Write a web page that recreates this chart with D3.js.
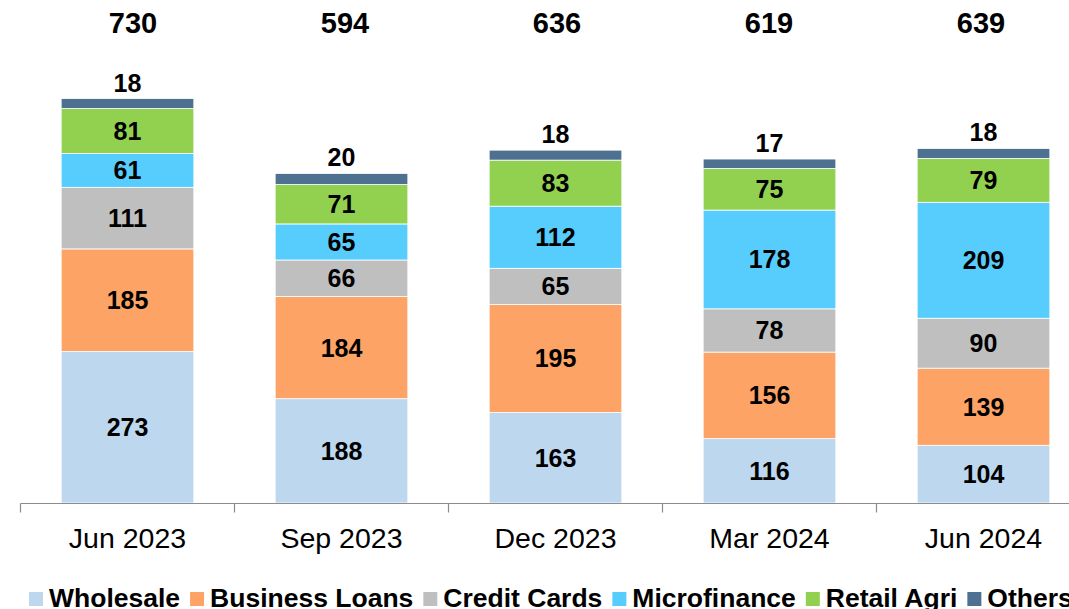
<!DOCTYPE html>
<html>
<head>
<meta charset="utf-8">
<script src="https://cdn.jsdelivr.net/npm/d3@7"></script>
<style>
  html, body { margin: 0; padding: 0; background: #fff; overflow: hidden; }
  svg { display: block; font-family: 'Liberation Sans', Arial, sans-serif; }
</style>
</head>
<body>
<svg width="1069" height="609"></svg>
<script>
// quarters on the x axis
const quarters = ['Jun 2023', 'Sep 2023', 'Dec 2023', 'Mar 2024', 'Jun 2024']
const series = ['Wholesale', 'Business Loans', 'Credit Cards', 'Microfinance', 'Retail Agri', 'Others']
const colors = ['#BDD7EE', '#FDA365', '#BFBFBF', '#57CDFD', '#92D050', '#4F7191']

// values per series, one per quarter
const wholesale = [273, 188, 163, 116, 104]
const businessLoans = [185, 184, 195, 156, 139]
const creditCards = [111, 66, 65, 78, 90]
const microfinance = [61, 65, 112, 178, 209]
const retailAgri = [81, 71, 83, 75, 79]
const others = [18, 20, 18, 17, 18]
const totals = [730, 594, 636, 619, 639]

const values = [wholesale, businessLoans, creditCards, microfinance, retailAgri, others]

const rows = quarters.map((q, i) => {
  const r = { quarter: q }
  series.forEach((s, j) => (r[s] = values[j][i]))
  return r
})

const svg = d3.select('svg')
const baseY = 503

const x = d3.scaleBand()
  .domain(quarters)
  .range([20.5, 1090.5])
  .paddingInner(0.38)
  .paddingOuter(0.19)

// the totals row sits on its own slightly narrower spacing
const xTotal = d3.scalePoint().domain(quarters).range([133, 981])

const y = d3.scaleLinear().domain([0, 730]).range([baseY, 98])

const color = d3.scaleOrdinal().domain(series).range(colors)

const stacked = d3.stack().keys(series)(rows)

// bars
const layers = svg.append('g')
  .selectAll('g')
  .data(stacked)
  .enter()
  .append('g')
  .attr('fill', (d) => color(d.key))

layers.selectAll('rect')
  .data((d) => d)
  .enter()
  .append('rect')
  .attr('x', (d) => x(d.data.quarter))
  .attr('y', (d) => y(d[1]))
  .attr('width', x.bandwidth())
  .attr('height', (d) => y(d[0]) - y(d[1]))
  .attr('stroke', '#ffffff')
  .attr('stroke-width', 0.8)

// segment labels (Others sits above the bar)
layers.selectAll('text')
  .data((d) => d.map((v) => ({ v, key: d.key })))
  .enter()
  .append('text')
  .attr('x', (d) => x(d.v.data.quarter) + x.bandwidth() / 2)
  .attr('y', (d) => d.key === 'Others'
    ? y(d.v[1]) - 7
    : (y(d.v[0]) + y(d.v[1])) / 2 + 9)
  .attr('text-anchor', 'middle')
  .attr('font-size', '25px')
  .attr('font-weight', 'bold')
  .attr('fill', '#000')
  .text((d) => d.v.data[d.key])

// totals at the top
svg.append('g')
  .selectAll('text')
  .data(quarters)
  .enter()
  .append('text')
  .attr('x', (d) => xTotal(d))
  .attr('y', 33)
  .attr('text-anchor', 'middle')
  .attr('font-size', '29px')
  .attr('font-weight', 'bold')
  .attr('fill', '#000')
  .text((d, i) => totals[i])

// x axis
const axis = svg.append('g').attr('transform', `translate(0,${baseY + 0.5})`)
axis.append('line')
  .attr('x1', 20.5).attr('x2', 1069)
  .attr('stroke', '#8c8c8c').attr('stroke-width', 1.2)
axis.selectAll('.tick-mark')
  .data(d3.range(quarters.length + 1))
  .enter()
  .append('line')
  .attr('class', 'tick-mark')
  .attr('x1', (i) => 20.5 + i * x.step())
  .attr('x2', (i) => 20.5 + i * x.step())
  .attr('y1', 0).attr('y2', 9)
  .attr('stroke', '#8c8c8c').attr('stroke-width', 1.2)

const labels = svg.append('g')
  .attr('transform', `translate(0,${baseY})`)
  .call(d3.axisBottom(x).tickSize(0).tickPadding(0))
labels.select('.domain').remove()
labels.selectAll('text')
  .attr('y', 45)
  .attr('dy', 0)
  .attr('font-size', '28.5px')
  .attr('font-family', "'Liberation Sans', Arial, sans-serif")
  .attr('fill', '#000')

// legend
const legend = svg.append('g').attr('transform', 'translate(29,592)')
let lx = 0
series.forEach((s) => {
  const g = legend.append('g').attr('transform', `translate(${lx},0)`)
  g.append('rect').attr('width', 14).attr('height', 14).attr('fill', color(s))
  const t = g.append('text')
    .attr('x', 20)
    .attr('y', 15)
    .attr('font-size', '26.5px')
    .attr('font-weight', 'bold')
    .attr('fill', '#000')
    .text(s)
  lx += 20 + t.node().getComputedTextLength() + 10
})
</script>
</body>
</html>
